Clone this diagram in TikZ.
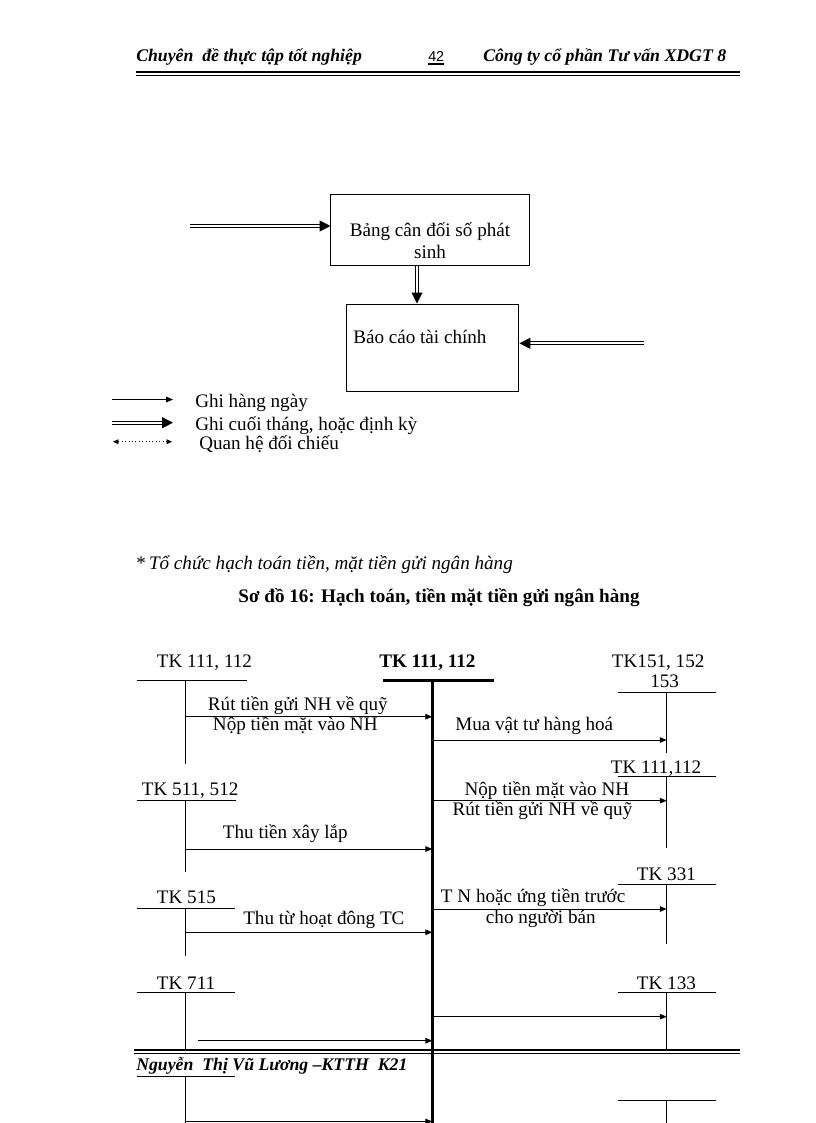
\documentclass[tikz,border=0pt]{standalone}
\usepackage{fontspec}
\setmainfont{Liberation Serif}
\newfontfamily\sansfont{Liberation Sans}
\usetikzlibrary{arrows.meta}

\begin{document}
\begin{tikzpicture}[x=0.2574mm, y=-0.2574mm,
  txt/.style={anchor=base west, inner sep=0pt, font=\fontsize{14}{15.6}\selectfont},
  head/.style={anchor=base west, inner sep=0pt, font=\fontsize{13}{15}\selectfont\bfseries\itshape},
  box/.style={draw, line width=0.7pt, inner sep=0pt},
  tline/.style={line width=0.7pt},
  axis/.style={line width=2pt},
  arr/.style={line width=0.7pt, -{Triangle[length=5pt, width=4pt]}},
  dbl/.style={double, double distance=1.3pt, line width=0.7pt, -{Triangle[length=8pt, width=8pt]}}]
\fill[white] (0,0) rectangle (816,1123);
\useasboundingbox (0,0) rectangle (816,1123);

% header
\node[head] (hl) at (136,61) {Chuyên\ \ đề thực tập tốt nghiệp};
\node[anchor=base west, inner sep=0pt, font=\sansfont\fontsize{10.5}{12}\selectfont] (page) at (428,61) {42};
\draw[line width=1.2pt] ([yshift=-0.7mm]page.base west) -- ([yshift=-0.7mm]page.base east);
\node[head] (hr) at (483,61) {Công ty cổ phần Tư vấn XDGT 8};
\draw[line width=1.7pt] (136,72.2) -- (740,72.2);
\draw[line width=0.7pt] (136,75) -- (740,75);

% so do tong hop
\node[box, minimum width=51mm, minimum height=18.5mm] (bang) at (430,230) {};
\node[txt, anchor=base, align=center] (bangtxt) at (430,258) {Bảng cân đối số phát\\sinh};
\node[box, minimum width=44.5mm, minimum height=22.4mm] (bao) at (432.5,347.5) {};
\node[txt] (baotxt) at (353,343.3) {Báo cáo tài chính};
\coordinate (inbang) at (190,226);
\coordinate (inbao) at (644,343.3);
\draw[dbl] (inbang) -- (inbang -| bang.west);
\draw[dbl] (bang.south -| 417,0) -- (bao.north -| 417,0);
\draw[dbl] (inbao) -- (inbao -| bao.east);

% chu thich
\coordinate (g1) at (112,399.5); \coordinate (g1e) at (173,399.5);
\coordinate (g2) at (112,422.7); \coordinate (g2e) at (173,422.7);
\coordinate (g3) at (113,441.7); \coordinate (g3e) at (172,441.7);
\draw[arr] (g1) -- (g1e);
\draw[dbl] (g2) -- (g2e);
\draw[line width=0.5pt, dotted, {Triangle[length=4pt, width=3.5pt]}-{Triangle[length=4pt, width=3.5pt]}] (g3) -- (g3e);
\node[txt] (leg1) at (195,407) {Ghi hàng ngày};
\node[txt] (leg2) at (195,430.5) {Ghi cuối tháng, hoặc định kỳ};
\node[txt] (leg3) at (199,449.3) {Quan hệ đối chiếu};

\node[anchor=base west, inner sep=0pt, font=\fontsize{14}{16}\selectfont\itshape] (sub) at (136,569) {{\upshape*}\,Tổ chức hạch toán tiền, mặt tiền gửi ngân hàng};
\node[anchor=base, inner sep=0pt, font=\fontsize{14}{16}\selectfont\bfseries] (title) at (439,602) {Sơ đồ 16: Hạch toán, tiền mặt tiền gửi ngân hàng};

% tai khoan
\node[txt, font=\fontsize{14}{15.6}\selectfont\bfseries] (tkc) at (379,667) {TK 111, 112};
\coordinate (c) at (432.3,680.7);
\draw[axis] (383,680.7) -- (494,680.7);
\draw[axis] (c) -- (432.3,1123);

\node[txt] (tk1) at (156.7,667) {TK 111, 112};
\node[txt] (tk2) at (141.7,795) {TK 511, 512};
\node[txt] (tk3) at (156.7,903) {TK 515};
\node[txt] (tk4) at (156.7,989) {TK 711};
\draw[tline] (136.7,680.7) -- (247,680.7) (185.5,680.7) -- (185.5,764);
\draw[tline] (136.7,800.7) -- (236,800.7) (185.5,800.7) -- (185.5,871.7);
\draw[tline] (136.7,908.3) -- (235,908.3) (185.5,908.3) -- (185.5,956);
\draw[tline] (136.7,992.3) -- (235,992.3) (185.5,992.3) -- (185.5,1050);
\draw[tline] (136.7,1076) -- (235,1076) (185.5,1076) -- (185.5,1123);

\node[txt] (tk5) at (611.7,667) {TK151, 152};
\node[txt] (tk5b) at (650,687.7) {153};
\node[txt] (tk6) at (610.7,773.3) {TK 111,112};
\node[txt] (tk7) at (636.7,880.5) {TK 331};
\node[txt] (tk8) at (636.7,989) {TK 133};
\draw[tline] (617.7,692.3) -- (716,692.3) (666.7,692.3) -- (666.7,752.7);
\draw[tline] (617.7,776) -- (716,776) (666.7,776) -- (666.7,848);
\draw[tline] (617.7,884) -- (716,884) (666.7,884) -- (666.7,944);
\draw[tline] (617.7,992.3) -- (716,992.3) (666.7,992.3) -- (666.7,1051);
\draw[tline] (617.7,1100) -- (716,1100) (666.7,1100) -- (666.7,1123);

% but toan
\draw[arr] (185.5,716.7) -- (c |- 0,716.7);
\draw[arr] (c |- 0,740) -- (666.7,740);
\draw[arr] (c |- 0,800.7) -- (666.7,800.7);
\draw[arr] (185.5,849) -- (c |- 0,849);
\draw[arr] (c |- 0,909) -- (666.7,909);
\draw[arr] (185.5,932.3) -- (c |- 0,932.3);
\draw[arr] (c |- 0,1016.7) -- (666.7,1016.7);
\draw[arr] (198.3,1040.7) -- (c |- 0,1040.7);
\draw[arr] (185.5,1121.5) -- (c |- 0,1121.5);

\node[txt] (r1) at (207.7,710) {Rút tiền gửi NH về quỹ};
\node[txt] (n1) at (212.7,730) {Nộp tiền mặt vào NH};
\node[txt] (mua) at (455,730.7) {Mua vật tư hàng hoá};
\node[txt] (n2) at (464.3,795) {Nộp tiền mặt vào NH};
\node[txt] (r2) at (452.3,815.7) {Rút tiền gửi NH về quỹ};
\node[txt] (xl) at (222.7,838) {Thu tiền xây lắp};
\node[txt] (ung) at (440.7,902.7) {T N hoặc ứng tiền trước};
\node[txt] (ban) at (485.7,923.3) {cho người bán};
\node[txt] (tc) at (243,924) {Thu từ hoạt đông TC};

% footer
\draw[line width=1.7pt] (134,1050) -- (740,1050);
\draw[line width=0.7pt] (134,1053.5) -- (740,1053.5);
\node[head] (foot) at (136,1070) {Nguyễn\ \ Thị Vũ Lương –KTTH\ \ K21};
\end{tikzpicture}
\end{document}
